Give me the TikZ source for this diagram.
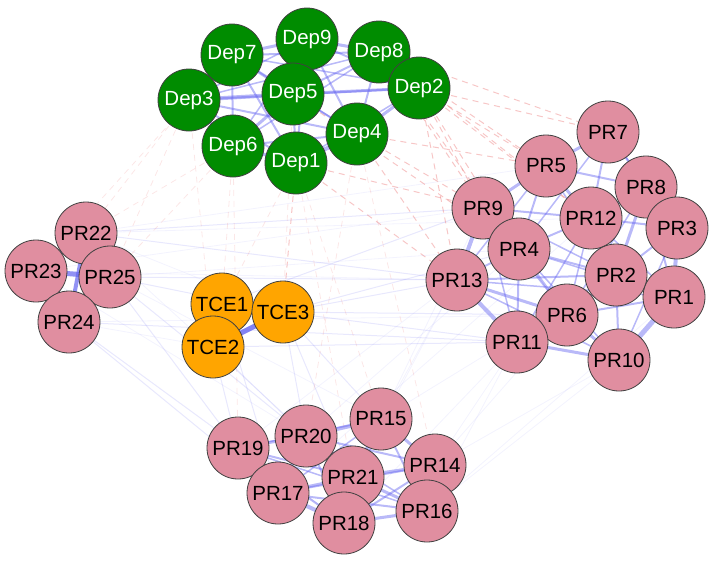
\documentclass[tikz,border=0pt]{standalone}
\usepackage{fontspec}
\setmainfont{Liberation Sans}
\definecolor{depgreen}{RGB}{0,140,0}
\definecolor{prpink}{RGB}{224,142,160}
\definecolor{tceorange}{RGB}{255,165,0}
\definecolor{eblue}{RGB}{100,100,240}
\definecolor{ered}{RGB}{235,120,120}
\begin{document}
\begin{tikzpicture}[x=1pt,y=-1pt,
  vtx/.style={circle,draw=black!75,line width=0.8pt,minimum size=62pt,inner sep=0pt,font=\fontsize{20.5}{20.5}\selectfont},
  dep/.style={vtx,fill=depgreen,text=white},
  prn/.style={vtx,fill=prpink,text=black},
  tce/.style={vtx,fill=tceorange,text=black},
  ein/.style={draw=eblue,opacity=0.45},
  ecross/.style={draw=eblue,opacity=0.15,line width=1pt},
  efaint/.style={draw=eblue,opacity=0.08,line width=0.8pt},
  ered/.style={draw=ered,opacity=0.42,dashed,dash pattern=on 6pt off 5pt,line width=1pt},
  eredf/.style={draw=ered,opacity=0.18,dashed,dash pattern=on 6pt off 5pt,line width=0.8pt}]
\useasboundingbox (0,0) rectangle (715,562);
% ---- coordinates of nodes (drawn later)
\coordinate (cDep9) at (307,39);
\coordinate (cDep7) at (232,55);
\coordinate (cDep8) at (379,52);
\coordinate (cDep2) at (419,88);
\coordinate (cDep3) at (189,100);
\coordinate (cDep5) at (293,94);
\coordinate (cDep6) at (233,146);
\coordinate (cDep1) at (296,163);
\coordinate (cDep4) at (357,134);
\coordinate (cPR7) at (608,132);
\coordinate (cPR5) at (546,166);
\coordinate (cPR8) at (646,187);
\coordinate (cPR9) at (483,208);
\coordinate (cPR12) at (591,218);
\coordinate (cPR3) at (677,228);
\coordinate (cPR4) at (519,249);
\coordinate (cPR13) at (457,280);
\coordinate (cPR2) at (616,275);
\coordinate (cPR1) at (674,297);
\coordinate (cPR6) at (567,315);
\coordinate (cPR11) at (517,342);
\coordinate (cPR10) at (619,360);
\coordinate (cPR22) at (86,233);
\coordinate (cPR23) at (36,271);
\coordinate (cPR25) at (110,277);
\coordinate (cPR24) at (69,322);
\coordinate (cTCE1) at (222,304);
\coordinate (cTCE3) at (283,312);
\coordinate (cTCE2) at (213,347);
\coordinate (cPR15) at (381,419);
\coordinate (cPR20) at (306,436);
\coordinate (cPR19) at (238,448);
\coordinate (cPR14) at (435,465);
\coordinate (cPR21) at (353,477);
\coordinate (cPR17) at (278,493);
\coordinate (cPR16) at (427,511);
\coordinate (cPR18) at (344,523);
% ---- faint cross-cluster edges
\foreach \a/\b in {PR22/PR13,PR25/PR13,PR22/PR9,PR25/TCE3,TCE3/PR13,TCE3/PR11,TCE3/PR4,TCE1/PR9,TCE2/PR11,TCE3/PR6,PR24/PR11}
  \draw[ecross] (c\a) -- (c\b);
\foreach \a/\b in {TCE2/PR19,TCE2/PR20,TCE3/PR20,TCE3/PR21,TCE1/PR17,PR25/PR19,PR24/PR17,PR25/PR20,PR24/PR18,TCE3/PR15}
  \draw[ecross] (c\a) -- (c\b);
\foreach \a/\b in {PR11/PR14,PR11/PR16,PR10/PR16,PR10/PR14,PR13/PR15,PR13/PR21,PR6/PR14,PR11/PR18,PR13/PR19,PR4/PR20,PR1/PR16,PR2/PR15,PR9/PR21,PR12/PR17,PR25/PR4,PR22/PR12,PR23/PR13,PR24/PR6,PR23/PR9,PR22/PR5,PR22/TCE3,PR24/TCE2,PR23/PR20,PR22/PR21,PR25/PR15}
  \draw[efaint] (c\a) -- (c\b);
\foreach \a/\b in {Dep3/PR22,Dep6/PR25,Dep6/PR22,Dep3/PR25,Dep1/TCE1,Dep6/TCE1,Dep5/TCE3,Dep1/PR15,Dep4/PR20,Dep6/PR19,Dep3/TCE2,Dep7/PR23,Dep1/PR21,Dep4/PR14}
  \draw[eredf] (c\a) -- (c\b);
% ---- red dashed Dep-PR edges
\foreach \a/\b in {Dep2/PR9,Dep2/PR4,Dep2/PR5,Dep2/PR13,Dep4/PR9,Dep4/PR13,Dep8/PR5,Dep8/PR7,Dep8/PR12,Dep1/PR13,Dep1/TCE3,Dep8/PR9,Dep5/PR4,Dep2/PR7,Dep4/PR5,Dep8/PR4,Dep1/PR9,Dep2/PR12}
  \draw[ered] (c\a) -- (c\b);
% ---- within Dep cluster
\foreach \a/\b/\w in {Dep7/Dep9/3,Dep7/Dep5/3,Dep7/Dep3/2,Dep9/Dep5/4,Dep9/Dep8/3,Dep8/Dep5/2,Dep8/Dep2/4,Dep8/Dep4/2,Dep2/Dep4/3,Dep2/Dep5/3,Dep3/Dep5/4,Dep3/Dep6/3,Dep3/Dep1/2,Dep6/Dep1/3,Dep6/Dep5/3,Dep1/Dep4/4,Dep1/Dep5/2,Dep4/Dep5/2,Dep3/Dep2/2,Dep7/Dep8/2,Dep9/Dep4/2,Dep6/Dep4/2,Dep7/Dep1/2,Dep3/Dep4/2,Dep9/Dep1/2,Dep6/Dep8/1.5,Dep7/Dep2/1.5,Dep3/Dep9/1.5,Dep7/Dep6/2,Dep9/Dep2/2,Dep7/Dep4/1.5,Dep6/Dep9/1.5,Dep1/Dep2/1.5,Dep3/Dep8/1.5}
  \draw[ein,line width=\w pt] (c\a) -- (c\b);
% ---- within PR1-13 cluster
\foreach \a/\b/\w in {PR7/PR5/3,PR7/PR8/2,PR7/PR12/2,PR5/PR12/3,PR5/PR9/3,PR5/PR4/2,PR8/PR12/2,PR8/PR3/3,PR8/PR2/3,PR9/PR4/3,PR9/PR13/4,PR9/PR12/2,PR12/PR2/3,PR12/PR4/2,PR12/PR3/2,PR3/PR1/4,PR3/PR2/2,PR4/PR13/2,PR4/PR2/2,PR4/PR6/2,PR13/PR11/4,PR13/PR6/3,PR13/PR2/2,PR2/PR1/3,PR2/PR6/3,PR2/PR10/2,PR1/PR10/5,PR1/PR6/2,PR6/PR11/3,PR6/PR10/3,PR11/PR10/3,PR13/PR1/1.5,PR9/PR2/1.5,PR5/PR8/2,PR5/PR2/1.5,PR7/PR3/1.5,PR4/PR11/2,PR9/PR6/1.5,PR12/PR6/1.5,PR13/PR10/1.5,PR4/PR10/1.5,PR8/PR1/2,PR12/PR1/1.5,PR5/PR13/1.5,PR9/PR11/1.5,PR3/PR10/1.5,PR4/PR1/1.5,PR12/PR11/1.5,PR7/PR4/1.5,PR8/PR6/1.5}
  \draw[ein,line width=\w pt] (c\a) -- (c\b);
% ---- PR22-25 and TCE
\foreach \a/\b/\w in {PR22/PR23/3,PR22/PR25/3,PR22/PR24/4,PR23/PR25/5,PR23/PR24/3,PR25/PR24/4}
  \draw[ein,line width=\w pt,opacity=0.7] (c\a) -- (c\b);
\foreach \a/\b/\w in {TCE1/TCE3/4,TCE2/TCE3/5,TCE1/TCE2/4}
  \draw[ein,line width=\w pt,opacity=0.8] (c\a) -- (c\b);
% ---- PR14-21 cluster
\foreach \a/\b/\w in {PR15/PR20/4,PR15/PR21/3,PR15/PR14/3,PR15/PR16/2,PR20/PR19/3,PR20/PR21/3,PR20/PR17/3,PR19/PR17/3,PR19/PR21/2,PR14/PR21/3,PR14/PR16/4,PR14/PR18/2,PR21/PR17/3,PR21/PR18/3,PR21/PR16/3,PR17/PR18/4,PR18/PR16/3,PR19/PR18/2,PR20/PR18/2,PR17/PR16/2,PR15/PR18/2,PR20/PR14/2,PR19/PR16/1.5,PR17/PR14/2,PR20/PR16/1.5,PR19/PR15/1.5,PR15/PR17/1.5}
  \draw[ein,line width=\w pt] (c\a) -- (c\b);
% ---- nodes
\foreach \n in {Dep9,Dep7,Dep8,Dep2,Dep3,Dep5,Dep6,Dep1,Dep4}
  \node[dep] (\n) at (c\n) {\n};
\foreach \n in {PR7,PR5,PR8,PR9,PR12,PR3,PR4,PR13,PR2,PR1,PR6,PR11,PR10,PR22,PR23,PR25,PR24,PR15,PR20,PR19,PR14,PR21,PR17,PR16,PR18}
  \node[prn] (\n) at (c\n) {\n};
\foreach \n in {TCE1,TCE3,TCE2}
  \node[tce] (\n) at (c\n) {\n};
\end{tikzpicture}
\end{document}
